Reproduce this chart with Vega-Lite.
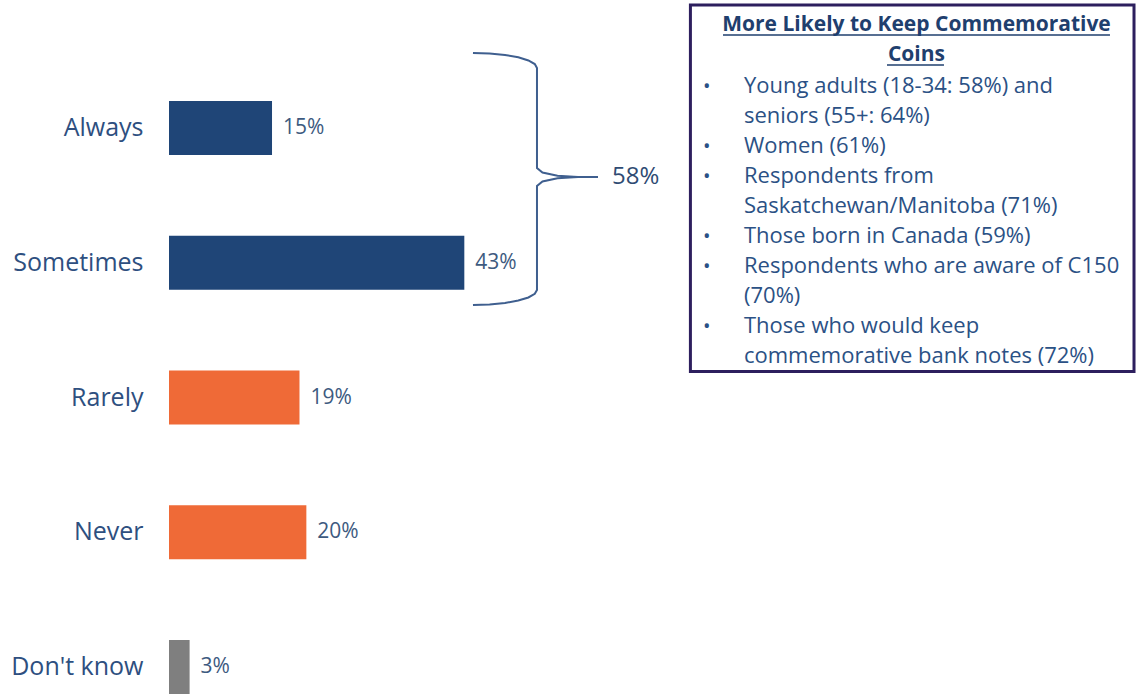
{
  "$schema": "https://vega.github.io/schema/vega-lite/v6.json",
  "width": 967,
  "height": 593,
  "autosize": {"type": "none"},
  "padding": {"left": 169, "top": 101, "right": 0, "bottom": 0},
  "background": "white",
  "config": {"view": {"stroke": null}, "font": "Open Sans"},
  "layer": [
    {
      "data": {"values": [
        {"answer": "Always", "pct": 0.15, "grp": "yes"},
        {"answer": "Sometimes", "pct": 0.43, "grp": "yes"},
        {"answer": "Rarely", "pct": 0.19, "grp": "no"},
        {"answer": "Never", "pct": 0.20, "grp": "no"},
        {"answer": "Don't know", "pct": 0.03, "grp": "dk"}
      ]},
      "encoding": {
        "y": {"field": "answer", "type": "nominal",
              "sort": ["Always", "Sometimes", "Rarely", "Never", "Don't know"],
              "scale": {"paddingInner": 0.6, "paddingOuter": 0},
              "axis": {"title": null, "domain": false, "ticks": false, "labelPadding": 26,
                       "labelFontSize": 25, "labelColor": "#2E4F7F", "labelFont": "Open Sans", "labelLimit": 300}},
        "x": {"field": "pct", "type": "quantitative",
              "scale": {"domain": [0, 1.408], "nice": false, "zero": true}, "axis": null}
      },
      "layer": [
        {"mark": {"type": "bar"},
         "encoding": {"color": {"field": "grp", "type": "nominal",
           "scale": {"domain": ["yes", "no", "dk"], "range": ["#1F4577", "#EF6A37", "#7F7F7F"]}, "legend": null}}},
        {"mark": {"type": "text", "align": "left", "baseline": "middle", "dx": 11, "fontSize": 21, "color": "#3D5A80", "font": "Open Sans"},
         "encoding": {"text": {"field": "pct", "type": "quantitative", "format": ".0%"}}}
      ]
    },
    {
      "layer": [
        {
          "data": {"values": [
            {"i": 1, "x": 0.4426, "y": -0.5565},
            {"i": 2, "x": 0.4668, "y": -0.5528},
            {"i": 3, "x": 0.4892, "y": -0.5417},
            {"i": 4, "x": 0.5086, "y": -0.5239},
            {"i": 5, "x": 0.5233, "y": -0.5009},
            {"i": 6, "x": 0.5326, "y": -0.4741},
            {"i": 7, "x": 0.5358, "y": -0.4452},
            {"i": 8, "x": 0.5358, "y": 0.2968},
            {"i": 9, "x": 0.5438, "y": 0.3302},
            {"i": 10, "x": 0.5657, "y": 0.3547},
            {"i": 11, "x": 0.5955, "y": 0.3636},
            {"i": 12, "x": 0.6246, "y": 0.3636},
            {"i": 13, "x": 0.5955, "y": 0.3636},
            {"i": 14, "x": 0.5657, "y": 0.3725},
            {"i": 15, "x": 0.5438, "y": 0.3970},
            {"i": 16, "x": 0.5358, "y": 0.4304},
            {"i": 17, "x": 0.5358, "y": 1.2020},
            {"i": 18, "x": 0.5326, "y": 1.2310},
            {"i": 19, "x": 0.5233, "y": 1.2577},
            {"i": 20, "x": 0.5086, "y": 1.2807},
            {"i": 21, "x": 0.4892, "y": 1.2985},
            {"i": 22, "x": 0.4668, "y": 1.3096},
            {"i": 23, "x": 0.4426, "y": 1.3133}
          ]},
          "mark": {"type": "line", "color": "#3F5F8F", "strokeWidth": 2},
          "encoding": {
            "x": {"field": "x", "type": "quantitative", "axis": null},
            "y": {"field": "y", "type": "quantitative", "scale": {"domain": [-0.2, 4.2], "reverse": true, "nice": false, "zero": false}, "axis": null},
            "order": {"field": "i", "type": "quantitative"}
          }
        },
        {
          "data": {"values": [{"label": "58%"}]},
          "mark": {"type": "text", "align": "left", "baseline": "middle", "fontSize": 24, "color": "#2F4B73", "font": "Open Sans"},
          "encoding": {
            "x": {"datum": 0.645, "type": "quantitative", "axis": null},
            "y": {"datum": 0.3636, "type": "quantitative", "axis": null},
            "text": {"field": "label"}
          }
        },
        {
          "data": {"values": [{"box": "note"}]},
          "mark": {"type": "rect", "fill": "white", "stroke": "#2D1F5E", "strokeWidth": 3},
          "encoding": {
            "x": {"datum": 0.7592, "type": "quantitative", "axis": null},
            "x2": {"datum": 1.4051},
            "y": {"datum": -0.9127, "type": "quantitative", "axis": null},
            "y2": {"datum": 1.8068}
          }
        },
        {
          "data": {"values": [{"lines": ["More Likely to Keep Commemorative", "Coins"]}]},
          "mark": {"type": "text", "align": "center", "baseline": "alphabetic", "fontSize": 21, "fontWeight": "bold", "lineHeight": 30, "color": "#1F3F6E", "font": "Open Sans"},
          "encoding": {
            "x": {"datum": 1.0884, "type": "quantitative", "axis": null},
            "y": {"datum": -0.7197, "type": "quantitative", "axis": null},
            "text": {"field": "lines"}
          }
        },
        {
          "data": {"values": [{"x": 0.8066, "x2": 1.3701, "y": -0.6901}, {"x": 1.0454, "x2": 1.1284, "y": -0.4675}]},
          "mark": {"type": "rule", "color": "#1F3F6E", "strokeWidth": 1.5},
          "encoding": {
            "x": {"field": "x", "type": "quantitative", "axis": null},
            "x2": {"field": "x2"},
            "y": {"field": "y", "type": "quantitative", "axis": null}
          }
        },
        {
          "data": {"values": [{"b": "•"}]},
          "mark": {"type": "text", "align": "center", "baseline": "alphabetic", "fontSize": 20, "color": "#2B5185", "font": "Open Sans"},
          "encoding": {
            "x": {"datum": 0.7829, "type": "quantitative", "axis": null},
            "y": {"datum": -0.2597, "type": "quantitative", "axis": null},
            "text": {"field": "b"}
          }
        },
        {
          "data": {"values": [{"b": "•"}]},
          "mark": {"type": "text", "align": "center", "baseline": "alphabetic", "fontSize": 20, "color": "#2B5185", "font": "Open Sans"},
          "encoding": {
            "x": {"datum": 0.7829, "type": "quantitative", "axis": null},
            "y": {"datum": 0.1855, "type": "quantitative", "axis": null},
            "text": {"field": "b"}
          }
        },
        {
          "data": {"values": [{"b": "•"}]},
          "mark": {"type": "text", "align": "center", "baseline": "alphabetic", "fontSize": 20, "color": "#2B5185", "font": "Open Sans"},
          "encoding": {
            "x": {"datum": 0.7829, "type": "quantitative", "axis": null},
            "y": {"datum": 0.4081, "type": "quantitative", "axis": null},
            "text": {"field": "b"}
          }
        },
        {
          "data": {"values": [{"b": "•"}]},
          "mark": {"type": "text", "align": "center", "baseline": "alphabetic", "fontSize": 20, "color": "#2B5185", "font": "Open Sans"},
          "encoding": {
            "x": {"datum": 0.7829, "type": "quantitative", "axis": null},
            "y": {"datum": 0.8533, "type": "quantitative", "axis": null},
            "text": {"field": "b"}
          }
        },
        {
          "data": {"values": [{"b": "•"}]},
          "mark": {"type": "text", "align": "center", "baseline": "alphabetic", "fontSize": 20, "color": "#2B5185", "font": "Open Sans"},
          "encoding": {
            "x": {"datum": 0.7829, "type": "quantitative", "axis": null},
            "y": {"datum": 1.0759, "type": "quantitative", "axis": null},
            "text": {"field": "b"}
          }
        },
        {
          "data": {"values": [{"b": "•"}]},
          "mark": {"type": "text", "align": "center", "baseline": "alphabetic", "fontSize": 20, "color": "#2B5185", "font": "Open Sans"},
          "encoding": {
            "x": {"datum": 0.7829, "type": "quantitative", "axis": null},
            "y": {"datum": 1.5211, "type": "quantitative", "axis": null},
            "text": {"field": "b"}
          }
        },
        {
          "data": {"values": [{"lines": [
            "Young adults (18-34: 58%) and",
            "seniors (55+: 64%)",
            "Women (61%)",
            "Respondents from",
            "Saskatchewan/Manitoba (71%)",
            "Those born in Canada (59%)",
            "Respondents who are aware of C150",
            "(70%)",
            "Those who would keep",
            "commemorative bank notes (72%)"
          ]}]},
          "mark": {"type": "text", "align": "left", "baseline": "alphabetic", "fontSize": 22, "lineHeight": 30, "color": "#2B5185", "font": "Open Sans"},
          "encoding": {
            "x": {"datum": 0.8372, "type": "quantitative", "axis": null},
            "y": {"datum": -0.2597, "type": "quantitative", "axis": null},
            "text": {"field": "lines"}
          }
        }
      ]
    }
  ],
  "resolve": {"scale": {"y": "independent"}}
}
